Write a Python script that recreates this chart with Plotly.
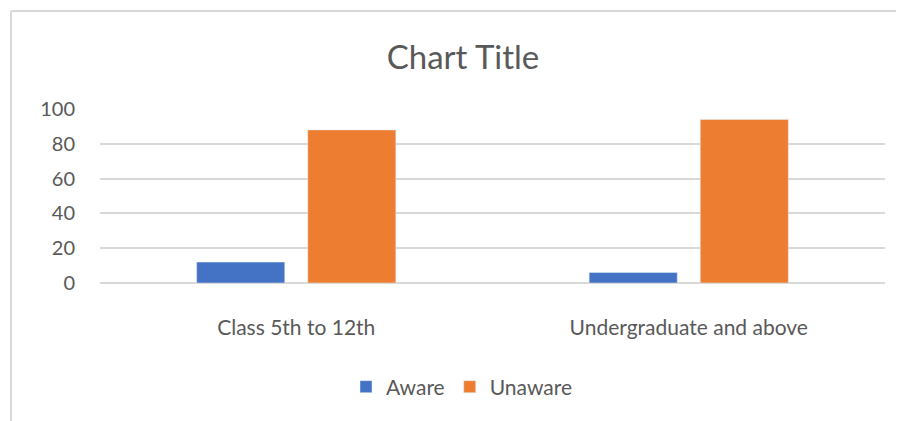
import plotly.graph_objects as go

categories = ["Class 5th to 12th", "Undergraduate and above"]
aware = [12, 6]
unaware = [88, 94]
y_ticks = [0, 20, 40, 60, 80, 100]

FONT = "Lato"
GREY = "#595959"
OFF = 8  # page body margin

W, H = 904 - OFF, 421 - OFF
L, R, T, B = 100 - OFF, 885 - OFF, 109 - OFF, 283 - OFF
PW, PH = R - L, B - T

fig = go.Figure()
fig.add_trace(go.Bar(name="Aware", x=categories, y=aware, marker_color="#4472C4"))
fig.add_trace(go.Bar(name="Unaware", x=categories, y=unaware, marker_color="#ED7D31"))

fig.update_layout(
    width=W, height=H,
    margin=dict(l=L, r=W - R, t=T, b=H - B),
    paper_bgcolor="white", plot_bgcolor="white",
    barmode="group", bargap=0.434, bargroupgap=0.207,
    font=dict(family=FONT, color=GREY, size=21),
    title=dict(text="Chart Title", x=(463 - OFF) / W, xref="container", xanchor="center",
               y=1 - (57 - OFF) / H, yref="container", yanchor="middle",
               font=dict(size=33, color=GREY, family=FONT)),
    legend=dict(orientation="h", x=(462 - 100) / PW, xanchor="center",
                y=(283 - 387) / PH, yanchor="middle",
                font=dict(size=21, color=GREY), itemwidth=30, tracegroupgap=0),
    showlegend=True,
)
fig.update_yaxes(range=[0, 100], tickvals=y_ticks, showgrid=True, gridcolor="#d9d9d9",
                 gridwidth=1.5, zeroline=True, zerolinecolor="#d9d9d9", zerolinewidth=1.5,
                 showline=False, ticklabelstandoff=24, tickfont=dict(size=20, color=GREY))
fig.update_xaxes(showline=False, showgrid=False, ticklabelstandoff=30,
                 tickfont=dict(size=21, color=GREY))

# chart border (left and top visible)
bx = (11 - 100) / PW
by = (283 - 11) / PH
fig.add_shape(type="line", xref="paper", yref="paper",
              x0=bx, x1=bx, y0=(283 - 440) / PH, y1=by,
              line=dict(color="#d9d9d9", width=2))
fig.add_shape(type="line", xref="paper", yref="paper",
              x0=bx, x1=(920 - 100) / PW, y0=by, y1=by,
              line=dict(color="#d9d9d9", width=2))

fig.write_html("out.html")
